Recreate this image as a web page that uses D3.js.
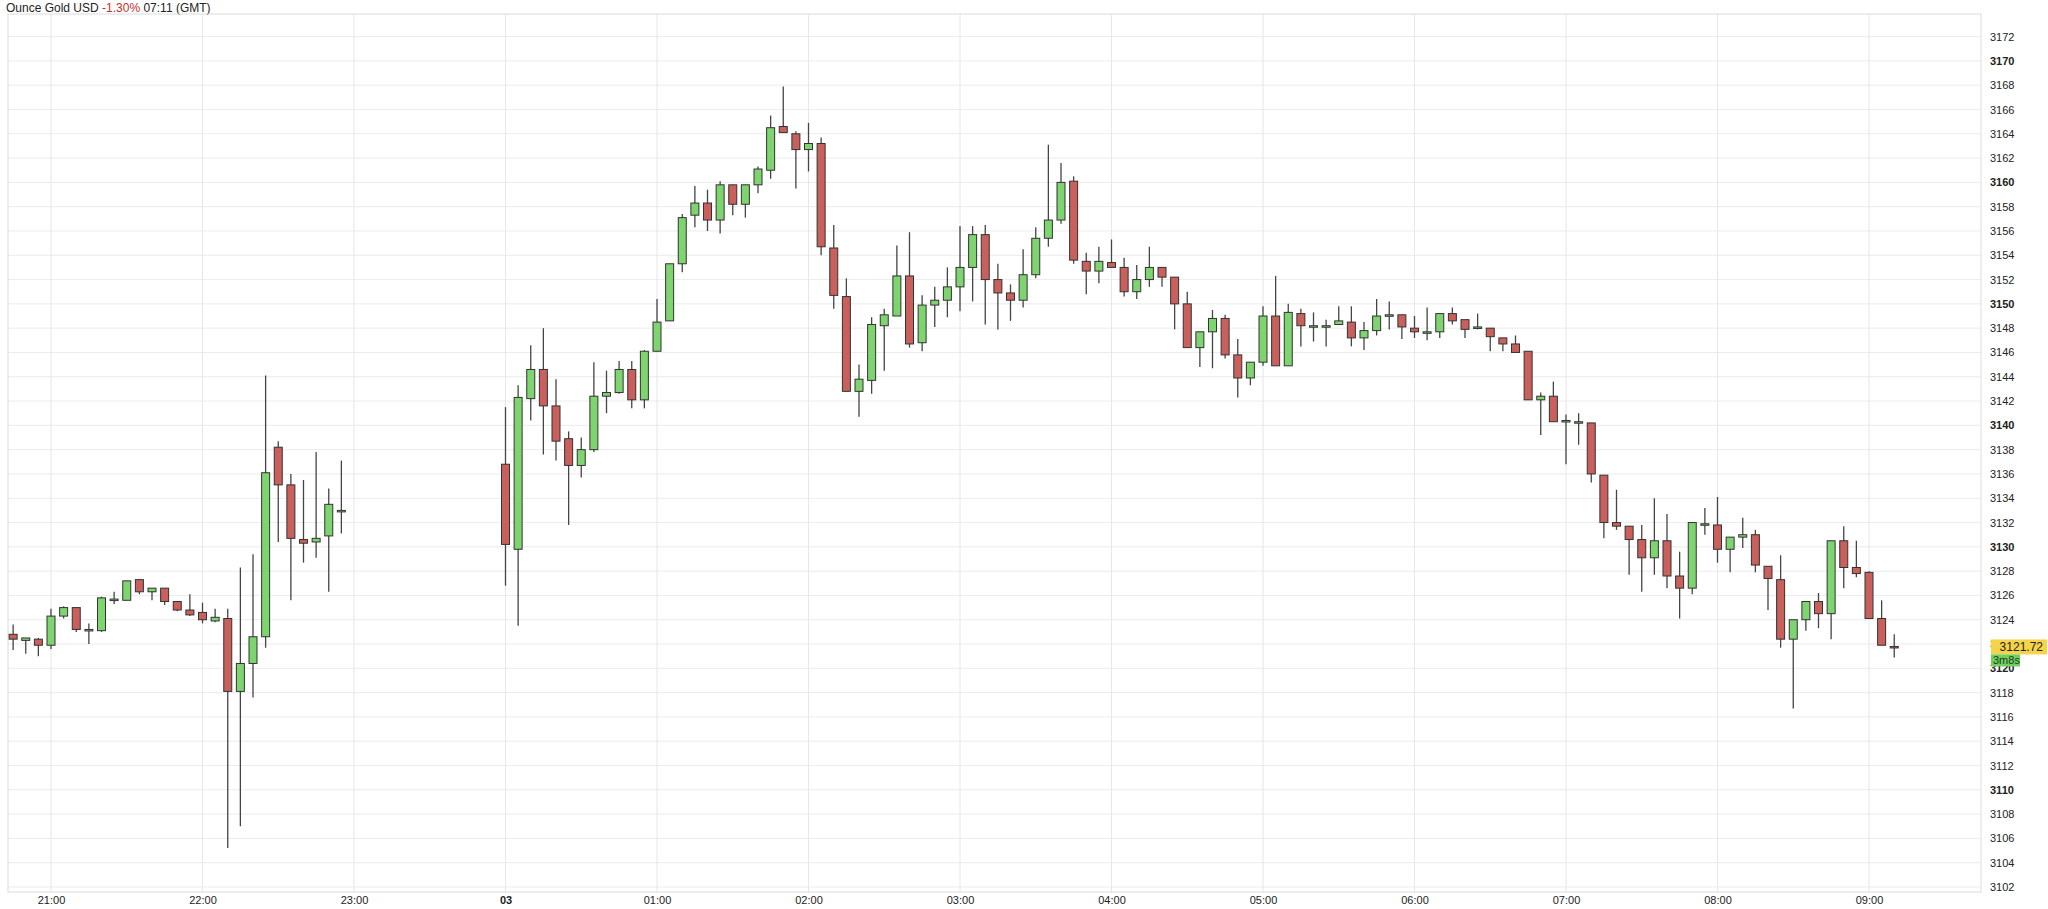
<!DOCTYPE html>
<html>
<head>
<meta charset="utf-8">
<script src="https://cdn.jsdelivr.net/npm/d3@7"></script>
<style>
  body { margin: 0; background: #fff; font-family: "Liberation Sans", Arial, sans-serif; }
</style>
</head>
<body>
<svg id="chart" width="2048" height="909"></svg>
<script>
// two sessions of 5 minute candles
const sessionStarts = ['2025-04-02T20:45:00Z', '2025-04-03T00:00:00Z']
const sessionLengths = [27, 111]

const opens = [
  3122.8, 3122.3, 3122.4, 3121.9, 3124.3, 3125.0, 3123.2, 3123.1, 3125.7, 3125.6,
  3127.3, 3126.3, 3126.6, 3125.5, 3124.8, 3124.6, 3123.9, 3124.1, 3118.1, 3120.4,
  3122.6, 3138.2, 3135.1, 3130.6, 3130.4, 3130.9, 3133.0,
  3136.8, 3129.8, 3142.2, 3144.6, 3141.6, 3138.9, 3136.7, 3138.0, 3142.4, 3142.7,
  3144.6, 3142.1, 3146.1, 3148.6, 3153.3, 3157.3, 3158.3, 3156.9, 3159.8, 3158.2,
  3159.8, 3161.0, 3164.6, 3164.0, 3162.7, 3163.2, 3154.6, 3150.6, 3142.8, 3143.7,
  3148.2, 3149.0, 3152.3, 3146.8, 3149.9, 3150.3, 3151.4, 3153.0, 3155.7, 3152.0,
  3150.9, 3150.3, 3152.4, 3155.4, 3156.9, 3160.1, 3153.5, 3152.7, 3153.4, 3153.0,
  3151.0, 3152.0, 3153.0, 3152.2, 3150.0, 3146.4, 3147.7, 3148.8, 3145.8, 3143.9,
  3145.2, 3149.0, 3144.9, 3149.2, 3148.2, 3148.2, 3148.3, 3148.5, 3147.2, 3147.8,
  3149.1, 3149.1, 3148.0, 3147.7, 3147.7, 3149.2, 3148.7, 3148.0, 3148.0, 3147.2,
  3146.7, 3146.1, 3142.1, 3142.4, 3140.4, 3140.3, 3140.2, 3135.9, 3132.0, 3131.7,
  3130.6, 3129.1, 3130.5, 3127.6, 3126.6, 3131.9, 3131.8, 3129.8, 3130.8, 3131.0,
  3128.4, 3127.3, 3122.4, 3124.0, 3125.5, 3124.5, 3130.5, 3128.3, 3127.9, 3124.1,
  3121.8
]
const closes = [
  3122.4, 3122.5, 3121.9, 3124.3, 3125.0, 3123.2, 3123.2, 3125.8, 3125.7, 3127.2,
  3126.3, 3126.6, 3125.5, 3124.8, 3124.4, 3124.0, 3124.2, 3118.1, 3120.4, 3122.6,
  3136.1, 3135.1, 3130.7, 3130.3, 3130.7, 3133.5, 3133.0,
  3130.2, 3142.3, 3144.6, 3141.6, 3138.7, 3136.7, 3138.0, 3142.4, 3142.7, 3144.6,
  3142.1, 3146.1, 3148.5, 3153.3, 3157.1, 3158.3, 3156.9, 3159.8, 3158.2, 3159.8,
  3161.1, 3164.5, 3164.1, 3162.7, 3163.2, 3154.7, 3150.7, 3142.8, 3143.8, 3148.3,
  3149.1, 3152.3, 3146.7, 3149.9, 3150.3, 3151.4, 3153.0, 3155.7, 3152.0, 3150.9,
  3150.3, 3152.4, 3155.4, 3156.9, 3160.0, 3153.6, 3152.7, 3153.5, 3153.0, 3151.0,
  3152.0, 3153.0, 3152.2, 3150.0, 3146.4, 3147.7, 3148.8, 3145.8, 3143.9, 3145.2,
  3149.0, 3144.9, 3149.3, 3148.2, 3148.2, 3148.2, 3148.6, 3147.2, 3147.8, 3149.0,
  3149.1, 3148.1, 3147.7, 3147.7, 3149.2, 3148.6, 3147.9, 3148.1, 3147.3, 3146.7,
  3146.0, 3142.1, 3142.4, 3140.3, 3140.4, 3140.3, 3136.0, 3132.0, 3131.7, 3130.6,
  3129.1, 3130.5, 3127.6, 3126.6, 3132.0, 3131.9, 3129.8, 3130.8, 3131.0, 3128.5,
  3127.4, 3122.4, 3124.0, 3125.5, 3124.5, 3130.5, 3128.3, 3127.8, 3124.1, 3121.9,
  3121.72
]
const highs = [
  3123.6, 3122.5, 3122.5, 3124.9, 3125.1, 3125.0, 3123.7, 3125.9, 3126.3, 3127.2,
  3127.3, 3126.6, 3126.6, 3125.5, 3126.1, 3125.4, 3124.9, 3124.9, 3128.3, 3129.4,
  3144.1, 3138.7, 3136.0, 3135.5, 3137.8, 3134.8, 3137.1,
  3141.5, 3143.3, 3146.6, 3148.0, 3143.8, 3139.5, 3139.0, 3145.2, 3144.5, 3145.3,
  3145.3, 3146.2, 3150.4, 3153.3, 3157.4, 3159.7, 3159.4, 3160.1, 3159.8, 3159.8,
  3161.3, 3165.5, 3167.9, 3164.2, 3164.9, 3163.7, 3156.5, 3152.1, 3145.0, 3148.9,
  3149.6, 3154.8, 3155.9, 3150.7, 3151.4, 3153.0, 3156.4, 3156.4, 3156.5, 3153.3,
  3151.6, 3154.5, 3156.3, 3163.1, 3161.6, 3160.5, 3154.2, 3154.7, 3155.3, 3153.8,
  3153.2, 3154.7, 3153.0, 3152.2, 3151.0, 3147.7, 3149.5, 3149.1, 3147.1, 3145.2,
  3149.8, 3152.3, 3150.0, 3149.6, 3149.3, 3148.7, 3149.8, 3149.8, 3148.5, 3150.4,
  3150.2, 3149.1, 3149.0, 3149.7, 3149.2, 3149.7, 3148.7, 3149.2, 3148.0, 3147.2,
  3147.4, 3146.1, 3142.7, 3143.6, 3140.9, 3141.0, 3140.2, 3135.9, 3134.7, 3131.7,
  3131.8, 3134.0, 3132.7, 3129.6, 3132.0, 3133.2, 3134.1, 3130.8, 3132.4, 3131.4,
  3128.4, 3129.3, 3124.0, 3125.5, 3126.2, 3130.5, 3131.7, 3130.5, 3128.0, 3125.6,
  3122.8
]
const lows = [
  3121.5, 3121.2, 3121.0, 3121.6, 3124.1, 3123.0, 3122.0, 3123.0, 3125.3, 3125.6,
  3126.1, 3125.6, 3125.2, 3124.7, 3124.3, 3123.7, 3123.8, 3105.2, 3107.0, 3117.6,
  3121.7, 3130.4, 3125.6, 3128.7, 3129.1, 3126.3, 3131.1,
  3126.8, 3123.5, 3140.4, 3137.6, 3137.1, 3131.8, 3135.7, 3137.8, 3141.0, 3142.6,
  3141.4, 3141.4, 3146.1, 3148.6, 3152.6, 3156.3, 3156.0, 3155.8, 3157.3, 3157.1,
  3159.1, 3160.3, 3164.1, 3159.5, 3160.9, 3154.0, 3149.6, 3142.8, 3140.7, 3142.6,
  3144.5, 3149.0, 3146.4, 3146.1, 3148.1, 3148.9, 3149.4, 3150.2, 3148.3, 3147.9,
  3148.6, 3149.7, 3152.1, 3154.7, 3156.6, 3153.3, 3150.8, 3151.7, 3153.0, 3150.6,
  3150.4, 3151.4, 3151.4, 3147.9, 3146.4, 3144.8, 3144.7, 3145.5, 3142.3, 3143.3,
  3144.9, 3144.9, 3144.9, 3146.5, 3146.9, 3146.5, 3148.3, 3146.5, 3146.2, 3147.4,
  3147.9, 3147.1, 3147.2, 3147.0, 3147.2, 3148.3, 3147.2, 3147.9, 3146.1, 3146.1,
  3146.0, 3142.1, 3139.2, 3140.3, 3136.8, 3138.4, 3135.3, 3130.7, 3131.4, 3127.7,
  3126.3, 3127.7, 3126.6, 3124.1, 3126.1, 3131.0, 3128.7, 3127.9, 3129.9, 3127.9,
  3124.8, 3121.7, 3116.7, 3123.1, 3123.3, 3122.4, 3126.6, 3127.5, 3124.1, 3121.9,
  3120.9
]

const priceTicks = d3.range(3102, 3173, 2)
const hourTicks = [
  '2025-04-02T21:00:00Z', '2025-04-02T22:00:00Z', '2025-04-02T23:00:00Z',
  '2025-04-03T00:00:00Z', '2025-04-03T01:00:00Z', '2025-04-03T02:00:00Z',
  '2025-04-03T03:00:00Z', '2025-04-03T04:00:00Z', '2025-04-03T05:00:00Z',
  '2025-04-03T06:00:00Z', '2025-04-03T07:00:00Z', '2025-04-03T08:00:00Z',
  '2025-04-03T09:00:00Z'
].map(s => new Date(s))
const lastPrice = 3121.72
const countdown = '3m8s'

const times = []
sessionStarts.forEach((s, k) => {
  const t0 = new Date(s).getTime()
  for (let i = 0; i < sessionLengths[k]; i++) times.push(new Date(t0 + i * 300000))
})
const candles = times.map((t, i) => ({
  t, o: opens[i], h: highs[i], l: lows[i], c: closes[i]
}))

const plotLeft = 8, plotRight = 1981, plotTop = 14, plotBottom = 892

const x = d3.scaleUtc()
  .domain([hourTicks[0], hourTicks[hourTicks.length - 1]])
  .range([51, 1869])
const y = d3.scaleLinear().domain([3102, 3172]).range([887, 36.6])

const svg = d3.select('#chart')

// header
const head = svg.append('text').attr('x', 6).attr('y', 12)
  .attr('font-size', 12).attr('fill', '#222')
head.append('tspan').text('Ounce Gold USD ')
head.append('tspan').attr('fill', '#c0312b').text('-1.30%')
head.append('tspan').text(' 07:11 (GMT)')

// grid
const grid = svg.append('g')
grid.selectAll('.hg').data(priceTicks).enter().append('line')
  .attr('x1', plotLeft).attr('x2', plotRight)
  .attr('y1', d => y(d)).attr('y2', d => y(d))
  .attr('stroke', '#ebebf0').attr('stroke-width', 1)
grid.selectAll('.vg').data(hourTicks).enter().append('line')
  .attr('x1', d => x(d)).attr('x2', d => x(d))
  .attr('y1', plotTop).attr('y2', plotBottom)
  .attr('stroke', '#e6e6ec').attr('stroke-width', 1)
svg.append('rect').attr('x', plotLeft).attr('y', plotTop)
  .attr('width', plotRight - plotLeft).attr('height', plotBottom - plotTop)
  .attr('fill', 'none').attr('stroke', '#dcdce2')

// price axis
const yAxis = svg.append('g').attr('transform', `translate(${plotRight},0)`)
  .call(d3.axisRight(y).tickValues(priceTicks).tickSize(0).tickPadding(9).tickFormat(d3.format('d')))
yAxis.select('.domain').remove()
yAxis.selectAll('text').attr('font-size', 11).attr('fill', '#222')
  .attr('font-family', '"Liberation Sans", Arial, sans-serif')
  .attr('font-weight', d => d % 10 === 0 ? 'bold' : 'normal')

// time axis
const fmt = d => d.getUTCHours() === 0 ? '03' : d3.utcFormat('%H:%M')(d)
const xAxis = svg.append('g').attr('transform', `translate(0,${plotBottom})`)
  .call(d3.axisBottom(x).tickValues(hourTicks).tickSize(0).tickPadding(4).tickFormat(fmt))
xAxis.select('.domain').remove()
xAxis.selectAll('text').attr('font-size', 11).attr('fill', '#222')
  .attr('font-family', '"Liberation Sans", Arial, sans-serif')
  .attr('font-weight', d => d.getUTCHours() === 0 ? 'bold' : 'normal')

// candles
const bw = 8
const cg = svg.append('g')
cg.selectAll('.wick').data(candles).enter().append('line')
  .attr('x1', d => x(d.t)).attr('x2', d => x(d.t))
  .attr('y1', d => y(d.h)).attr('y2', d => y(d.l))
  .attr('stroke', '#444').attr('stroke-width', 1.3)
cg.selectAll('.body').data(candles).enter().append('rect')
  .attr('x', d => x(d.t) - bw / 2)
  .attr('y', d => y(Math.max(d.o, d.c)))
  .attr('width', bw)
  .attr('height', d => Math.max(1.5, Math.abs(y(d.o) - y(d.c))))
  .attr('fill', d => d.c >= d.o ? '#7ed46f' : '#c9605c')
  .attr('stroke', '#333').attr('stroke-width', 1)

// last price tag, drawn over the axis label like the original
const ly = y(lastPrice)
svg.append('rect').attr('x', plotRight + 10).attr('y', ly - 8).attr('width', 56).attr('height', 15)
  .attr('fill', '#f5d44a')
svg.append('text').attr('x', plotRight + 62).attr('y', ly + 4).attr('text-anchor', 'end')
  .attr('font-size', 12).attr('fill', '#222').text(lastPrice.toFixed(2))
svg.append('rect').attr('x', plotRight + 10).attr('y', ly + 7).attr('width', 29).attr('height', 12)
  .attr('fill', '#6fcf5f')
svg.append('text').attr('x', plotRight + 12).attr('y', ly + 17)
  .attr('font-size', 11).attr('fill', '#1f3d1a').text(countdown)
</script>
</body>
</html>
